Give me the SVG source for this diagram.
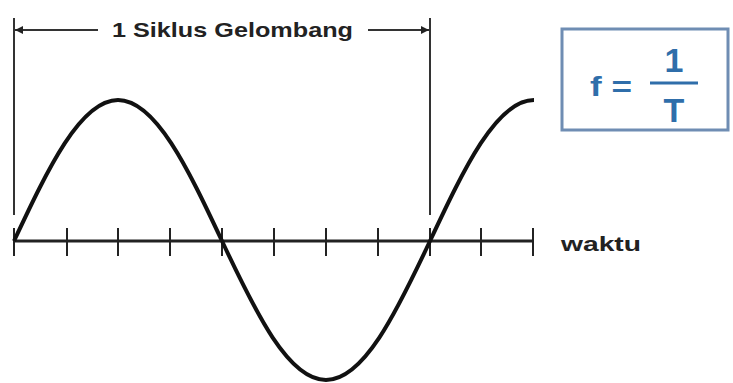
<svg xmlns="http://www.w3.org/2000/svg" width="733" height="383" viewBox="0 0 733 383">
<defs>
<style>
.bold{font-family:"Liberation Sans",Arial,sans-serif;font-weight:bold}
.blue{fill:#2f6eaa}
.tick{stroke:#222;stroke-width:2}
</style>
<marker id="ah" viewBox="0 0 10 10" refX="10" refY="5" markerWidth="10" markerHeight="8" markerUnits="userSpaceOnUse" orient="auto"><path d="M0,0 L10,5 L0,10 z" fill="#222"/></marker>
</defs>
<rect width="733" height="383" fill="#fff"/>
<g id="connectors">
<line x1="14" y1="18" x2="14" y2="215" stroke="#333" stroke-width="2"/>
<line x1="430" y1="18" x2="430" y2="215" stroke="#333" stroke-width="2"/>
<line x1="98" y1="30" x2="15" y2="30" stroke="#333" stroke-width="2" marker-end="url(#ah)"/>
<line x1="368" y1="30" x2="429" y2="30" stroke="#333" stroke-width="2" marker-end="url(#ah)"/>
</g>
<g id="axis">
<line x1="14" y1="241" x2="533" y2="241" stroke="#222" stroke-width="3"/>
<g class="tick">
<line x1="14" y1="228" x2="14" y2="256"/>
<line x1="67" y1="228" x2="67" y2="256"/>
<line x1="118" y1="228" x2="118" y2="256"/>
<line x1="170" y1="228" x2="170" y2="256"/>
<line x1="222" y1="228" x2="222" y2="256"/>
<line x1="274" y1="228" x2="274" y2="256"/>
<line x1="326" y1="228" x2="326" y2="256"/>
<line x1="378" y1="228" x2="378" y2="256"/>
<line x1="430" y1="228" x2="430" y2="256"/>
<line x1="481" y1="228" x2="481" y2="256"/>
<line x1="533" y1="228" x2="533" y2="256"/>
</g>
</g>
<g id="wave">
<path d="M14,241 C47.92,168.77 80.54,100 118,100 C155.46,100 188.08,168.77 222,241 C255.92,313.23 288.54,380 326,380 C363.46,380 396.08,313.23 430,241 C463.92,168.77 496.54,100 534,100" fill="none" stroke="#111" stroke-width="4"/>
</g>
<g id="label">
<text class="bold" x="112" y="37" font-size="21" fill="#222" textLength="241" lengthAdjust="spacingAndGlyphs">1 Siklus Gelombang</text>
</g>
<g id="waktu">
<text class="bold" x="561" y="251" font-size="20" fill="#222" textLength="80" lengthAdjust="spacingAndGlyphs">waktu</text>
</g>
<g id="formula">
<rect x="562" y="29" width="166" height="101" fill="#fff" stroke="#6f8db3" stroke-width="3"/>
<text class="bold blue" x="590" y="96" font-size="28" textLength="42" lengthAdjust="spacingAndGlyphs">f =</text>
<text class="bold blue" x="674" y="72" font-size="34" text-anchor="middle">1</text>
<line x1="650" y1="83" x2="698" y2="83" stroke="#2f6eaa" stroke-width="3"/>
<text class="bold blue" x="674" y="122" font-size="34" text-anchor="middle">T</text>
</g>
</svg>
